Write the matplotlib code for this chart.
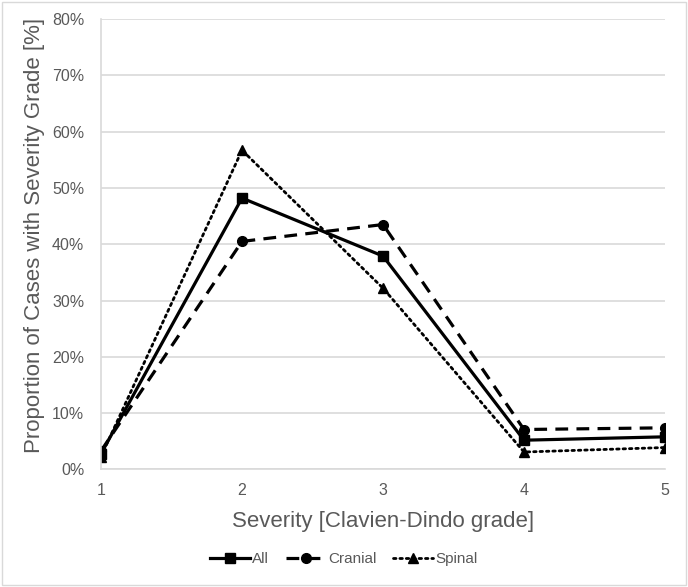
import matplotlib.pyplot as plt
from matplotlib.patches import Rectangle
from matplotlib.ticker import FuncFormatter

plt.rcParams['font.family'] = ['Liberation Sans', 'DejaVu Sans']

# Clavien-Dindo grade
grades = [1, 2, 3, 4, 5]
# share of cases per grade [%]
all_cases = [2.8, 48.2, 37.9, 5.2, 5.8]
cranial = [3.3, 40.5, 43.5, 7.1, 7.4]
spinal = [2.3, 56.7, 32.2, 3.1, 3.9]

grey_txt = '#595959'
grey_line = '#d9d9d9'

fig = plt.figure(figsize=(6.88, 5.87), dpi=100)
ax = fig.add_axes([0.1468, 0.2002, 0.8198, 0.7674])

ax.plot(grades, all_cases, color='black', linewidth=2.3, linestyle='-',
        marker='s', markersize=7, label='All')
ax.plot(grades, cranial, color='black', linewidth=2.3, linestyle=(0, (4, 2.6)),
        marker='o', markersize=7, label='Cranial')
ax.plot(grades, spinal, color='black', linewidth=2.0, linestyle=(0, (0.9, 1.4)),
        dash_capstyle='round', marker='^', markersize=7, label='Spinal')

ax.set_xlim(1, 5)
ax.set_ylim(0, 80)
ax.set_xticks(grades)
ax.set_yticks(range(0, 81, 10))
ax.yaxis.set_major_formatter(FuncFormatter(lambda v, p: '%d%%' % v))
ax.tick_params(length=0, labelsize=11.5, colors=grey_txt)
ax.tick_params(axis='y', pad=12)
ax.tick_params(axis='x', pad=10)
ax.grid(axis='y', color=grey_line, linewidth=1.2)
ax.set_axisbelow(True)
for s in ['top', 'right']:
    ax.spines[s].set_visible(False)
for s in ['left', 'bottom']:
    ax.spines[s].set_color(grey_line)
    ax.spines[s].set_linewidth(1.2)

ax.set_xlabel('Severity [Clavien-Dindo grade]', fontsize=16, color=grey_txt, labelpad=9)
ax.set_ylabel('Proportion of Cases with Severity Grade [%]', fontsize=16,
              color=grey_txt)
ax.yaxis.set_label_coords(-0.1, 0.519)

leg = fig.legend(*ax.get_legend_handles_labels(), loc='center',
                 bbox_to_anchor=(0.5, 1 - 559 / 587),
                 ncol=3, frameon=False, fontsize=11, handlelength=2.6,
                 handletextpad=0.15, columnspacing=1.1)
for t in leg.get_texts():
    t.set_color(grey_txt)

fig.patches.append(Rectangle((0.003, 0.003), 0.994, 0.993, transform=fig.transFigure,
                             fill=False, edgecolor=grey_line, linewidth=1))

plt.savefig('out.png', dpi=100)
